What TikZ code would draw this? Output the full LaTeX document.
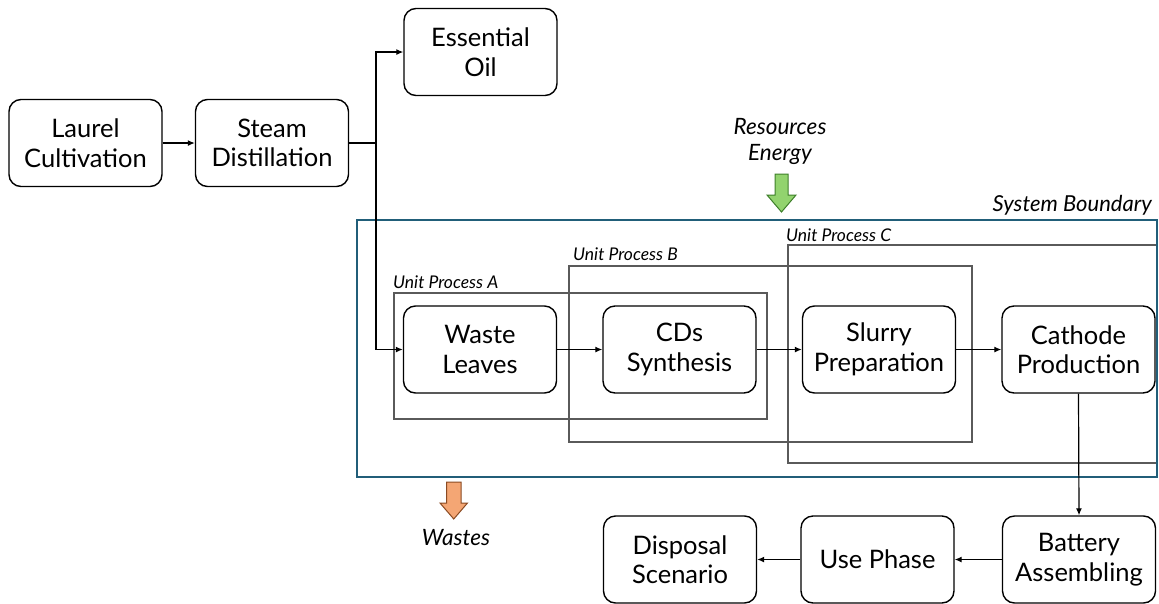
\documentclass[tikz,border=0pt]{standalone}
\usepackage{fontspec}
\setmainfont{Lato}
\usetikzlibrary{arrows.meta}
\definecolor{bnd}{HTML}{215E79}
\definecolor{upgray}{HTML}{5A5A5A}
\definecolor{gfill}{HTML}{92D36E}
\definecolor{gdraw}{HTML}{3E7F2A}
\definecolor{ofill}{HTML}{F4A674}
\definecolor{odraw}{HTML}{8A4A22}
\tikzset{
  procbox/.style={draw=black, line width=1.4pt, rounded corners=12pt,
    minimum width=153pt, minimum height=87pt, align=center, inner sep=0pt,
    font=\fontsize{25.5}{29.5}\selectfont},
  flow/.style={line width=1.2pt, -{Latex[length=7pt,width=6pt]}},
  upbox/.style={draw=upgray, line width=1.3pt},
  uplabel/.style={anchor=west, inner sep=0pt, font=\fontsize{17.5}{20}\selectfont\itshape},
  italiclabel/.style={inner sep=0pt, font=\fontsize{22.5}{26}\selectfont\itshape},
  bigarrow/.style={line width=1pt, line join=miter}
}
\begin{document}
\begin{tikzpicture}[x=1pt,y=-1pt]
\useasboundingbox (0,0) rectangle (1159,603);
% system boundary and unit processes
\draw[upbox] (394,293) rectangle (767,419);
\draw[upbox] (569,266) rectangle (972,442);
\draw[upbox] (788,245) rectangle (1157,463);
\draw[draw=bnd, line width=2.5pt] (357,220) rectangle (1157,477);
\node[uplabel] (lA) at (393,282) {Unit Process A};
\node[uplabel] (lB) at (573,254) {Unit Process B};
\node[uplabel] (lC) at (786,235) {Unit Process C};
\node[anchor=east, inner sep=0pt, font=\fontsize{22}{24}\selectfont\itshape] (sb) at (1152,205) {System Boundary};
% process boxes
\node[procbox] (laurel) at (85.5,143) {Laurel\\Cultivation};
\node[procbox] (steam) at (272,143) {Steam\\Distillation};
\node[procbox] (oil) at (480.5,52) {Essential\\Oil};
\node[procbox] (waste) at (480,349.5) {Waste\\Leaves};
\node[procbox] (cds) at (679.5,349.5) {CDs\\Synthesis};
\node[procbox] (slurry) at (879,349.5) {Slurry\\Preparation};
\node[procbox] (cathode) at (1078.5,349.5) {Cathode\\Production};
\node[procbox] (disposal) at (680,559.5) {Disposal\\Scenario};
\node[procbox] (use) at (877.5,559.5) {Use Phase};
\node[procbox] (battery) at (1079,559.5) {Battery\\Assembling};
% connectors
\coordinate (j) at (376,143);
\draw[flow] (laurel) -- (steam);
\draw[line width=1.2pt] (steam.east) -- (j);
\draw[flow] (j) |- (oil.west);
\draw[flow] (j) |- (waste.west);
\draw[flow] (waste) -- (cds);
\draw[flow] (cds) -- (slurry);
\draw[flow] (slurry) -- (cathode);
\draw[flow] (cathode.south) -- (battery.north);
\draw[flow] (battery) -- (use);
\draw[flow] (use) -- (disposal);
% resources / energy
\node[italiclabel] (res) at (780,127) {Resources};
\node[italiclabel] (en) at (780,154) {Energy};
\draw[bigarrow, draw=gdraw, fill=gfill] (775,174) -- (788,174) -- (788,195) -- (796,195) -- (781.5,212) -- (767,195) -- (775,195) -- cycle;
% wastes
\draw[bigarrow, draw=odraw, fill=ofill] (446.5,482) -- (461,482) -- (461,503) -- (467.5,503) -- (453.75,519) -- (440,503) -- (446.5,503) -- cycle;
\node[italiclabel] (wa) at (456,538) {Wastes};
\end{tikzpicture}
\end{document}
